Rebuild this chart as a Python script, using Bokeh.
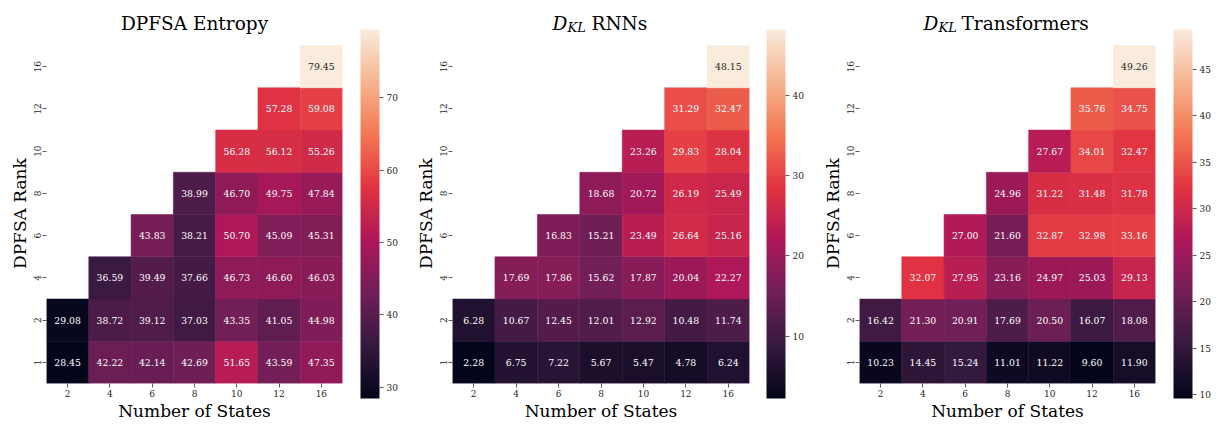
import numpy as np
from bokeh.plotting import figure
from bokeh.models import (Label, FactorRange, Range1d, FixedTicker,
                          LinearColorMapper, ColumnDataSource, ColorBar)
from bokeh.layouts import row
from bokeh.embed import file_html
from bokeh.resources import INLINE
from bokeh.core.properties import value

# ---------------- data ----------------
states = ["2", "4", "6", "8", "10", "12", "16"]          # x categories
ranks = ["1", "2", "4", "6", "8", "10", "12", "16"]      # y categories (bottom -> top)

# rows: rank 1, 2, 4, 6, 8, 10, 12, 16 ; columns: states ; None = empty cell
entropy_vals = [
    [28.45, 42.22, 42.14, 42.69, 51.65, 43.59, 47.35],
    [29.08, 38.72, 39.12, 37.03, 43.35, 41.05, 44.98],
    [None, 36.59, 39.49, 37.66, 46.73, 46.60, 46.03],
    [None, None, 43.83, 38.21, 50.70, 45.09, 45.31],
    [None, None, None, 38.99, 46.70, 49.75, 47.84],
    [None, None, None, None, 56.28, 56.12, 55.26],
    [None, None, None, None, None, 57.28, 59.08],
    [None, None, None, None, None, None, 79.45],
]
rnn_vals = [
    [2.28, 6.75, 7.22, 5.67, 5.47, 4.78, 6.24],
    [6.28, 10.67, 12.45, 12.01, 12.92, 10.48, 11.74],
    [None, 17.69, 17.86, 15.62, 17.87, 20.04, 22.27],
    [None, None, 16.83, 15.21, 23.49, 26.64, 25.16],
    [None, None, None, 18.68, 20.72, 26.19, 25.49],
    [None, None, None, None, 23.26, 29.83, 28.04],
    [None, None, None, None, None, 31.29, 32.47],
    [None, None, None, None, None, None, 48.15],
]
trans_vals = [
    [10.23, 14.45, 15.24, 11.01, 11.22, 9.60, 11.90],
    [16.42, 21.30, 20.91, 17.69, 20.50, 16.07, 18.08],
    [None, 32.07, 27.95, 23.16, 24.97, 25.03, 29.13],
    [None, None, 27.00, 21.60, 32.87, 32.98, 33.16],
    [None, None, None, 24.96, 31.22, 31.48, 31.78],
    [None, None, None, None, 27.67, 34.01, 32.47],
    [None, None, None, None, None, 35.76, 34.75],
    [None, None, None, None, None, None, 49.26],
]

entropy_ticks = [30, 40, 50, 60, 70]
rnn_ticks = [10, 20, 30, 40]
trans_ticks = [10, 15, 20, 25, 30, 35, 40, 45]

x_label = "Number of States"
y_label = "DPFSA Rank"

# ---------------- style ----------------
FONT = "DejaVu Serif"
FRAME_H = 383          # frame includes the title strip on top
BOTTOM = 42
ROW_PX = 42.25         # pixel height of one heatmap row
TITLE_PX = FRAME_H - ROW_PX * len(ranks)
TITLE_Y = FRAME_H - 23  # title baseline (screen px from frame bottom)
CB_H = 369
CB_BELOW = 15
TICK_COLOR = "#333333"
LABEL_COLOR = "#262626"
# trailing no-break spaces move the rotated y label down so that it is
# centred on the heatmap rows rather than on the frame incl. the title strip
Y_LABEL_PAD = "\u00a0" * 8

rocket_anchors = ["#03051a", "#35193e", "#701f57", "#ad1759",
                  "#e13342", "#f37651", "#f6b48f", "#faebdd"]


def build_palette(anchors, n=256):
    rgb = np.array([[int(h[i:i + 2], 16) for i in (1, 3, 5)] for h in anchors], float)
    pos = np.linspace(0, 1, len(anchors))
    t = np.linspace(0, 1, n)
    cols = np.stack([np.interp(t, pos, rgb[:, k]) for k in range(3)], 1)
    return ["#%02x%02x%02x" % tuple(int(round(c)) for c in col) for col in cols]


rocket = build_palette(rocket_anchors)


def lum(hexc):
    out = []
    for i in (1, 3, 5):
        c = int(hexc[i:i + 2], 16) / 255
        out.append(c / 12.92 if c <= 0.03928 else ((c + 0.055) / 1.055) ** 2.4)
    return 0.2126 * out[0] + 0.7152 * out[1] + 0.0722 * out[2]


def style_axis(ax):
    ax.axis_line_color = None
    ax.major_tick_in = 0
    ax.major_tick_out = 4
    ax.major_tick_line_color = TICK_COLOR
    ax.major_tick_line_width = 0.8
    ax.minor_tick_line_color = None
    ax.major_label_text_font = FONT
    ax.major_label_text_font_size = "9px"
    ax.major_label_text_color = LABEL_COLOR
    ax.major_label_standoff = 2
    ax.axis_label_text_font = FONT
    ax.axis_label_text_font_size = "17px"
    ax.axis_label_text_font_style = "normal"
    ax.axis_label_text_color = "#000000"
    ax.axis_label_standoff = 1


def title_label(x, y, txt, size, style, align="left"):
    return Label(x=x, y=y, x_units="screen", y_units="screen", text=txt,
                 text_align=align, text_baseline="alphabetic", text_font=FONT,
                 text_font_size=size, text_font_style=style, text_color="#000000")


def panel(vals, ticks, bl, fw, br, cb_x, title_parts):
    flat = [v for r in vals for v in r if v is not None]
    lo, hi = min(flat), max(flat)
    mapper = LinearColorMapper(palette=rocket, low=lo, high=hi)
    xs, ys, vs, labels, tcs = [], [], [], [], []
    for ri, rv in enumerate(vals):
        for s, v in zip(states, rv):
            if v is None:
                continue
            xs.append(s)
            ys.append(ri + 0.5)
            vs.append(v)
            labels.append(f"{v:.2f}")
            idx = int(round((v - lo) / (hi - lo) * (len(rocket) - 1)))
            tcs.append(LABEL_COLOR if lum(rocket[idx]) > 0.408 else "#ffffff")
    src = ColumnDataSource(dict(x=xs, y=ys, v=vs, label=labels, tc=tcs))

    y_end = len(ranks) + TITLE_PX / ROW_PX
    p = figure(frame_width=fw, frame_height=FRAME_H,
               x_range=FactorRange(*states), y_range=Range1d(0, y_end),
               output_backend="svg", toolbar_location=None, tools="",
               min_border_left=bl, min_border_right=br,
               min_border_top=0, min_border_bottom=BOTTOM)
    p.rect(x="x", y="y", width=1, height=1, source=src,
           fill_color={"field": "v", "transform": mapper},
           line_color={"field": "v", "transform": mapper}, line_width=0.5)
    p.text(x="x", y="y", text="label", source=src, text_color="tc",
           text_align="center", text_baseline="middle",
           text_font=value(FONT), text_font_size="9.3px")
    p.grid.visible = False
    p.outline_line_color = None
    p.background_fill_color = "white"
    p.xaxis.axis_label = x_label
    p.yaxis.axis_label = y_label + Y_LABEL_PAD
    style_axis(p.xaxis[0])
    style_axis(p.yaxis[0])
    p.yaxis.ticker = FixedTicker(ticks=[i + 0.5 for i in range(len(ranks))])
    p.yaxis.major_label_overrides = {i + 0.5: r for i, r in enumerate(ranks)}
    p.yaxis.major_label_orientation = "vertical"
    p.yaxis.bounds = (0, len(ranks))

    for kind, xoff, txt in title_parts:
        if kind == "center":
            p.add_layout(title_label(fw / 2, TITLE_Y, txt, "18.5px", "normal", "center"))
        elif kind == "D":
            p.add_layout(title_label(xoff, TITLE_Y, txt, "18.5px", "italic"))
        elif kind == "sub":
            p.add_layout(title_label(xoff, TITLE_Y - 4, txt, "13px", "italic"))
        else:
            p.add_layout(title_label(xoff, TITLE_Y, txt, "18.5px", "normal"))

    cb = ColorBar(color_mapper=mapper, ticker=FixedTicker(ticks=ticks),
                  width=19, height=CB_H, location=(cb_x, -CB_BELOW),
                  padding=0, margin=0, bar_line_color=None,
                  border_line_color=None, background_fill_color=None,
                  major_tick_in=0, major_tick_out=4,
                  major_tick_line_color=TICK_COLOR, major_tick_line_width=0.8,
                  minor_tick_line_color=None, label_standoff=3,
                  major_label_text_font=FONT, major_label_text_font_size="9px",
                  major_label_text_color=LABEL_COLOR)
    p.add_layout(cb, "right")
    return p


p1 = panel(entropy_vals, entropy_ticks, 46, 296, 58, 18,
           [("center", 0, "DPFSA Entropy")])
p2 = panel(rnn_vals, rnn_ticks, 52, 297, 57, 17,
           [("D", 100, "D"), ("sub", 115, "KL"), ("txt", 139, "RNNs")])
p3 = panel(trans_vals, trans_ticks, 53, 296, 55, 18,
           [("D", 64, "D"), ("sub", 79, "KL"), ("txt", 102, "Transformers")])

layout = row(p1, p2, p3)
open("out.html", "w").write(file_html(layout, INLINE))
